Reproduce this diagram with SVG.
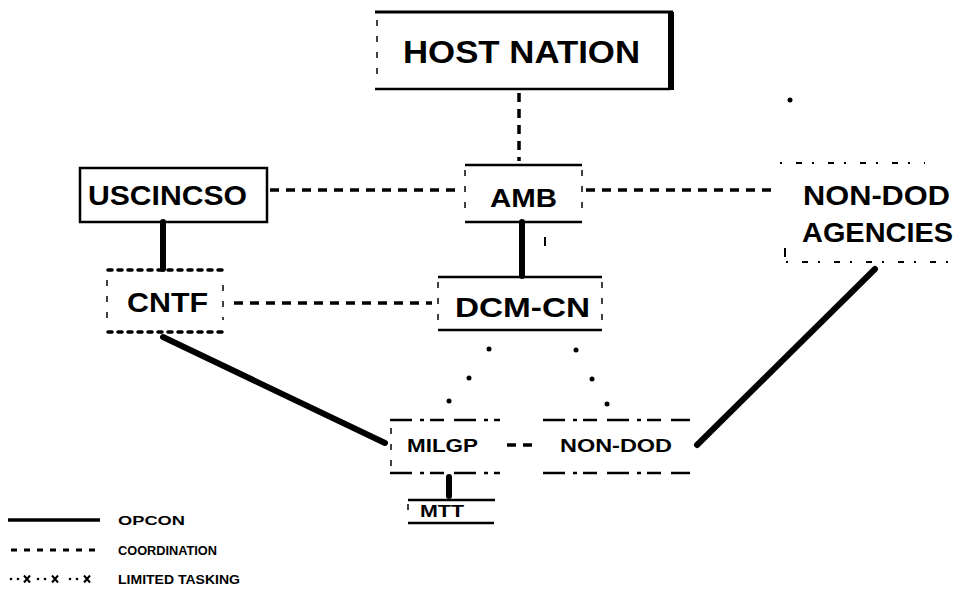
<svg xmlns="http://www.w3.org/2000/svg" width="962" height="596" viewBox="0 0 962 596">
<style>
text{font-family:"Liberation Sans",Arial,sans-serif;font-weight:bold;fill:#000}
.big{font-size:28px}
.mid{font-size:18px}
.leg{font-size:13px}
.ln{stroke:#000;fill:none}
.solid{stroke:#000;stroke-width:2.5;fill:none}
.thin{stroke:#000;stroke-width:1.5;fill:none;stroke-dasharray:6 10}
.dotted{stroke:#000;stroke-width:3.5;fill:none;stroke-dasharray:4 6;stroke-linecap:round}
.sparse{stroke:#000;stroke-width:2;fill:none;stroke-dasharray:2 14 6 10}
.broken{stroke:#000;stroke-width:2.5;fill:none;stroke-dasharray:22 8 4 6 14 10}
.coord{stroke:#000;stroke-width:3.5;fill:none;stroke-dasharray:9 7}
.opcon{stroke:#000;stroke-width:6;fill:none;stroke-linecap:round}
</style>
<rect width="962" height="596" fill="#fff"/>

<g id="connectors">
  <line class="coord" x1="519" y1="93" x2="519" y2="161" stroke-dasharray="8 9"/>
  <line class="coord" x1="270" y1="190" x2="462" y2="190"/>
  <line class="coord" x1="586" y1="190" x2="776" y2="190"/>
  <line class="coord" x1="234" y1="303" x2="432" y2="303"/>
  <line class="coord" x1="507" y1="445" x2="538" y2="445" stroke-dasharray="10 6"/>
  <line class="opcon" x1="163" y1="222" x2="163" y2="269" stroke-linecap="butt"/>
  <line class="opcon" x1="522" y1="222" x2="522" y2="276" stroke-width="4" stroke-linecap="butt"/>
  <line class="ln" x1="545" y1="237" x2="545" y2="246" stroke-width="2"/>
  <line class="opcon" x1="163" y1="337" x2="385" y2="443"/>
  <line class="opcon" x1="697" y1="445" x2="875" y2="269"/>
  <line class="opcon" x1="449" y1="477" x2="449" y2="496" stroke-width="5"/>
  <g fill="#000">
    <circle cx="489" cy="349" r="2.5"/>
    <circle cx="469" cy="378" r="2.5"/>
    <circle cx="449" cy="401" r="2.5"/>
    <circle cx="576" cy="350" r="2.5"/>
    <circle cx="592" cy="379" r="2.5"/>
    <circle cx="607" cy="404" r="2.5"/>
  </g>
</g>

<g id="host-nation">
  <line class="ln" x1="375" y1="12" x2="673" y2="12" stroke-width="3"/>
  <line class="ln" x1="671" y1="12" x2="671" y2="90" stroke-width="6"/>
  <line class="ln" x1="375" y1="89" x2="670" y2="89" stroke-width="2.5"/>
  <line class="thin" x1="377" y1="20" x2="377" y2="82"/>
  <text x="403" y="63" font-size="32" textLength="237" lengthAdjust="spacingAndGlyphs">HOST NATION</text>
</g>

<g id="uscincso">
  <rect class="solid" x="80" y="168" width="187" height="54"/>
  <text class="big" x="88" y="205" textLength="159" lengthAdjust="spacingAndGlyphs">USCINCSO</text>
</g>

<g id="amb">
  <line class="solid" x1="465" y1="165" x2="582" y2="165"/>
  <line class="solid" x1="465" y1="222" x2="582" y2="222"/>
  <line class="thin" x1="465" y1="170" x2="465" y2="218"/>
  <line class="thin" x1="582" y1="170" x2="582" y2="218"/>
  <text x="490" y="207" font-size="26" textLength="67" lengthAdjust="spacingAndGlyphs">AMB</text>
</g>

<g id="non-dod-agencies">
  <line class="sparse" x1="780" y1="163" x2="925" y2="163"/>
  <line class="sparse" x1="786" y1="262" x2="955" y2="262"/>
  <line class="ln" x1="785" y1="248" x2="785" y2="257" stroke-width="2"/>
  <text class="big" x="803" y="205" textLength="147" lengthAdjust="spacingAndGlyphs">NON-DOD</text>
  <text class="big" x="802" y="242" textLength="151" lengthAdjust="spacingAndGlyphs">AGENCIES</text>
</g>

<g id="cntf">
  <line class="dotted" x1="108" y1="270" x2="222" y2="270"/>
  <line class="dotted" x1="108" y1="332" x2="222" y2="332"/>
  <line class="thin" x1="107" y1="280" x2="107" y2="322" stroke-dasharray="2 8"/>
  <line class="thin" x1="223" y1="285" x2="223" y2="320" stroke-dasharray="2 12"/>
  <text class="big" x="127" y="312" textLength="81" lengthAdjust="spacingAndGlyphs">CNTF</text>
</g>

<g id="dcm-cn">
  <line class="solid" x1="438" y1="277" x2="602" y2="277"/>
  <line class="solid" x1="438" y1="330" x2="602" y2="330"/>
  <line class="thin" x1="438" y1="282" x2="438" y2="326"/>
  <line class="thin" x1="602" y1="282" x2="602" y2="326"/>
  <text class="big" x="455" y="317" textLength="135" lengthAdjust="spacingAndGlyphs">DCM-CN</text>
</g>

<g id="milgp">
  <line class="broken" x1="390" y1="420" x2="500" y2="420"/>
  <line class="broken" x1="390" y1="473" x2="500" y2="473"/>
  <line class="thin" x1="391" y1="428" x2="391" y2="468" stroke-dasharray="3 8"/>
  <text class="mid" x="407" y="452" textLength="71" lengthAdjust="spacingAndGlyphs">MILGP</text>
</g>

<g id="non-dod">
  <line class="broken" x1="543" y1="420" x2="690" y2="420"/>
  <line class="broken" x1="543" y1="473" x2="690" y2="473" stroke-dasharray="3 20 14 8 3 12"/>
  <text class="mid" x="560" y="452" textLength="112" lengthAdjust="spacingAndGlyphs">NON-DOD</text>
</g>

<g id="mtt">
  <line class="solid" x1="408" y1="500" x2="495" y2="500" stroke-width="2"/>
  <line class="thin" x1="408" y1="504" x2="408" y2="518" stroke-dasharray="4 3"/>
  <line class="solid" x1="408" y1="523" x2="494" y2="523"/>
  <text x="420" y="517" font-size="16" textLength="44" lengthAdjust="spacingAndGlyphs">MTT</text>
</g>

<g id="legend">
  <line class="ln" x1="8" y1="520" x2="100" y2="520" stroke-width="3.5"/>
  <text class="leg" x="118" y="525" textLength="67" lengthAdjust="spacingAndGlyphs">OPCON</text>
  <line class="ln" x1="11" y1="550" x2="100" y2="550" stroke-width="3" stroke-dasharray="6 7"/>
  <text class="leg" x="118" y="555" textLength="99" lengthAdjust="spacingAndGlyphs">COORDINATION</text>
  <g fill="#000">
    <circle cx="11" cy="579" r="1.3"/><circle cx="18" cy="579" r="1.3"/>
    <circle cx="38" cy="579" r="1.3"/><circle cx="45" cy="579" r="1.3"/>
    <circle cx="70" cy="579" r="1.3"/><circle cx="77" cy="579" r="1.3"/>
  </g>
  <g class="ln" stroke-width="2">
    <path d="M24 575.5 L30 582.5 M30 575.5 L24 582.5"/>
    <path d="M52 575.5 L58 582.5 M58 575.5 L52 582.5"/>
    <path d="M84 575.5 L90 582.5 M90 575.5 L84 582.5"/>
  </g>
  <text class="leg" x="118" y="584" textLength="122" lengthAdjust="spacingAndGlyphs">LIMITED TASKING</text>
</g>
<circle cx="790" cy="100" r="2.5" fill="#000"/>
</svg>
